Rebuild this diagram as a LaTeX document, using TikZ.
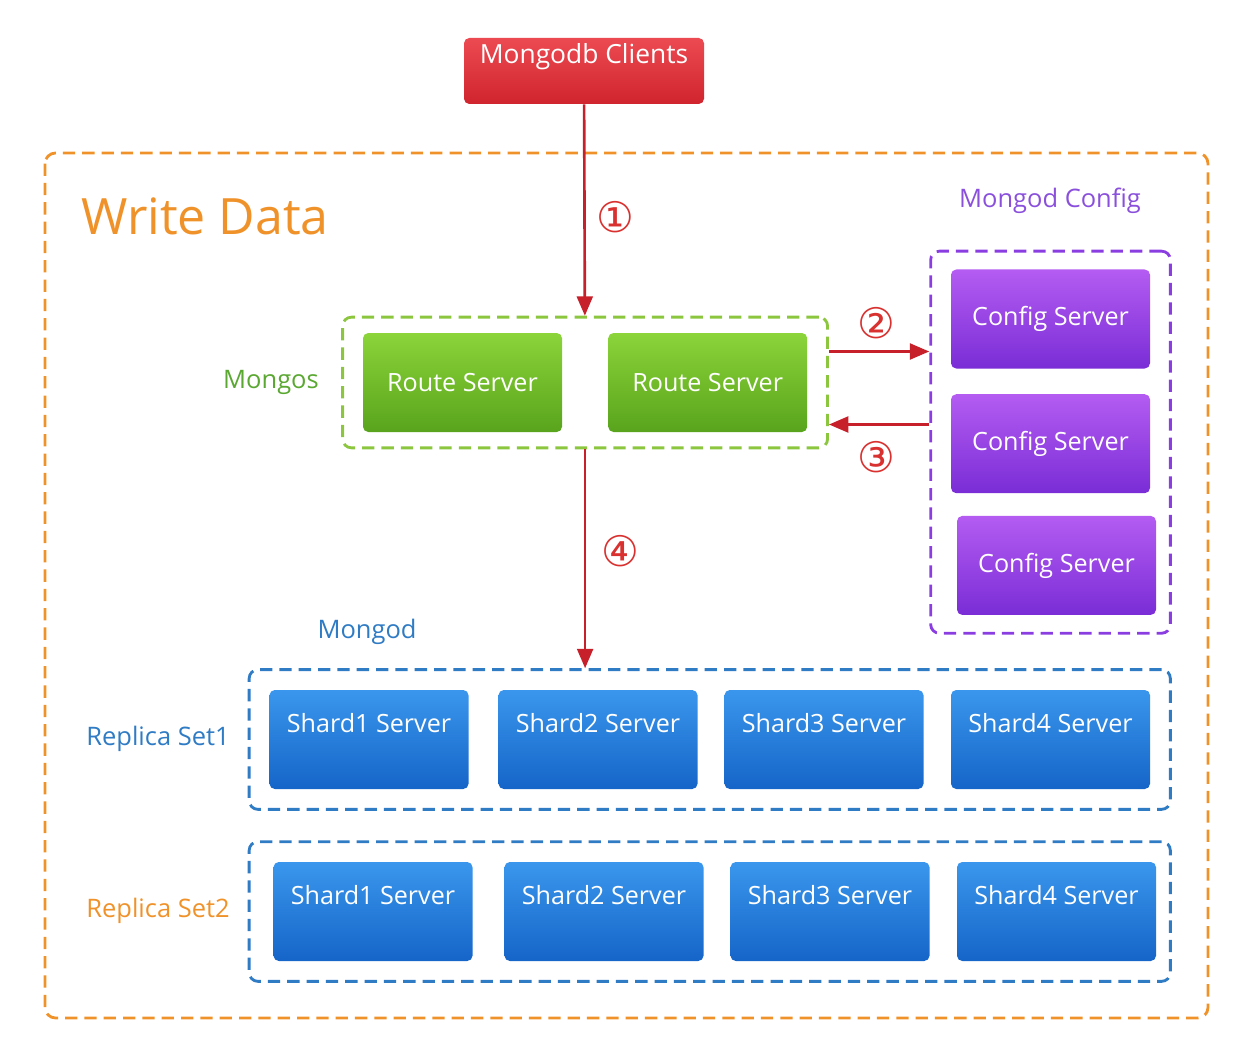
\documentclass[tikz,border=0pt]{standalone}
\usepackage{fontspec}
\setmainfont{Open Sans}
\newfontfamily\circfont{DejaVu Sans}
\usetikzlibrary{positioning, arrows.meta, fit}
\definecolor{outerorange}{HTML}{F0922A}
\definecolor{grpgreen}{HTML}{8CC63F}
\definecolor{grppurple}{HTML}{8A3DE0}
\definecolor{grpblue}{HTML}{2F7BC4}
\definecolor{flowred}{HTML}{C8202A}
\definecolor{numred}{HTML}{D8312F}
\def\circnum#1{{\circfont\fontsize{24}{24}\selectfont#1}}

\begin{document}
\begin{tikzpicture}[
    srv/.style={rounded corners=3pt, minimum width=3.98cm, minimum height=1.98cm,
      inner sep=0pt, text=white, font=\fontsize{14.3}{16}\selectfont},
    uptext/.style={text height=0.3cm, text depth=0.6cm},
    grp/.style={draw=#1, dashed, dash pattern=on 7pt off 4pt, line width=1.6pt,
      rounded corners=5pt, inner xsep=0.4cm, inner ysep=0.36cm},
    lbl/.style={font=\fontsize{14.5}{16}\selectfont},
    flow/.style={draw=flowred, line width=1.5pt, -{Triangle[length=11pt,width=9pt]}},
    num/.style={text=numred, inner sep=0pt}
  ]
  \useasboundingbox (0,0) rectangle (25.12,-21.08);

  % clients
  \node [srv, uptext, minimum width=4.8cm, minimum height=1.32cm, font=\fontsize{15}{17}\selectfont,
    top color={rgb,255:red,236;green,74;blue,82}, bottom color={rgb,255:red,208;green,36;blue,46}]
    (clients) at (11.68,-1.42) {Mongodb Clients};

  \draw [draw=outerorange, dashed, dash pattern=on 7pt off 4pt, line width=1.6pt, rounded corners=6pt]
    (0.9,-3.06) rectangle (24.16,-20.36);
  \node [anchor=west, text=outerorange, font=\fontsize{28.5}{32}\selectfont] (title) at (1.5,-4.32) {Write Data};

  % mongos
  \node [srv, top color={rgb,255:red,140;green,212;blue,58}, bottom color={rgb,255:red,88;green,164;blue,28}]
    (r1) at (9.25,-7.65) {Route Server};
  \node [srv, top color={rgb,255:red,140;green,212;blue,58}, bottom color={rgb,255:red,88;green,164;blue,28},
    right=0.91cm of r1] (r2) {Route Server};
  \node [grp=grpgreen, fit=(r1)(r2), inner ysep=0.31cm] (mongos) {};
  \node [lbl, text={rgb,255:red,90;green,168;blue,50}] (mongoslbl) at (5.42,-7.64) {Mongos};

  % config servers
  \node [srv, top color={rgb,255:red,180;green,92;blue,242}, bottom color={rgb,255:red,122;green,45;blue,214}]
    (c1) at (21.01,-6.38) {Config Server};
  \node [srv, top color={rgb,255:red,180;green,92;blue,242}, bottom color={rgb,255:red,122;green,45;blue,214},
    below=0.5cm of c1] (c2) {Config Server};
  \node [srv, top color={rgb,255:red,180;green,92;blue,242}, bottom color={rgb,255:red,122;green,45;blue,214},
    below=0.44cm of c2, xshift=0.12cm] (c3) {Config Server};
  \node [grp=grppurple, fit=(c1)(c3.south -| c1.east)] (cfgbox) {};
  \node [lbl, text={rgb,255:red,138;green,80;blue,220}] (cfglbl) at (21.0,-4.02) {Mongod Config};

  % shards
  \foreach \i/\x in {1/7.38, 2/11.96, 3/16.48, 4/21.01} {
    \node [srv, uptext, top color={rgb,255:red,58;green,150;blue,236}, bottom color={rgb,255:red,21;green,101;blue,200}]
      (a\i) at (\x,-14.79) {Shard\i\ Server};
  }
  \foreach \i/\x in {1/7.46, 2/12.08, 3/16.6, 4/21.13} {
    \node [srv, uptext, top color={rgb,255:red,58;green,150;blue,236}, bottom color={rgb,255:red,21;green,101;blue,200}]
      (b\i) at (\x,-18.23) {Shard\i\ Server};
  }
  \node [grp=grpblue, fit=(a1)(a4), inner ysep=0.4cm] (set1) {};
  \node [grp=grpblue, fit=(a1.west |- b1.north)(a4.east |- b4.south), inner ysep=0.4cm] (set2) {};
  \node [lbl, text=grpblue] (mongodlbl) at (7.34,-12.64) {Mongod};
  \node [lbl, text=grpblue] (set1lbl) at (3.16,-14.78) {Replica Set1};
  \node [lbl, text=outerorange] (set2lbl) at (3.16,-18.22) {Replica Set2};

  % flows
  \draw [flow] (clients) -- (mongos);
  \draw [flow] ([yshift=0.62cm]mongos.east) -- ([yshift=0.62cm]mongos.east -| cfgbox.west);
  \draw [flow] ([yshift=-0.84cm]mongos.east -| cfgbox.west) -- ([yshift=-0.84cm]mongos.east);
  \draw [flow] (mongos) -- (mongos.south |- set1.north);

  \node [num] (n1) at (12.3,-4.34) {\circnum{①}};
  \node [num] (n2) at (17.52,-6.46) {\circnum{②}};
  \node [num] (n3) at (17.52,-9.14) {\circnum{③}};
  \node [num] (n4) at (12.4,-11.02) {\circnum{④}};
\end{tikzpicture}
\end{document}
